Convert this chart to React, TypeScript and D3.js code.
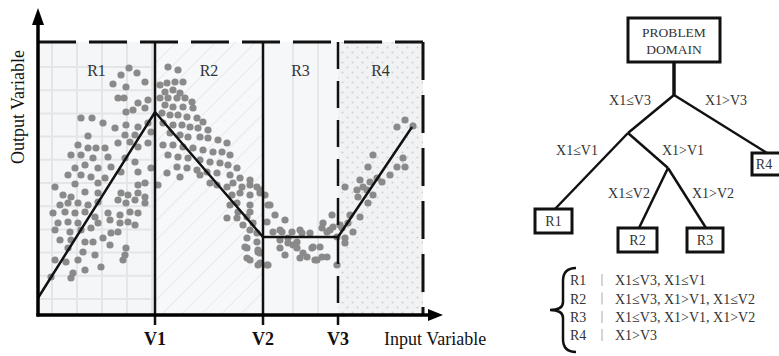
import React from "react";
import * as d3 from "d3";

// ---------- data ----------
const regionLabels = ["R1", "R2", "R3", "R4"];
const breakLabels = ["V1", "V2", "V3"];
const breakValues = [117, 225, 300];
const xMax = 385;
const yMax = 273;
const fitX = [0, 117, 225, 300, 374];
const fitY = [17, 203, 78, 78, 188];

const pointsX = [
  91, 83, 99, 107, 75, 88, 80, 86, 100, 110, 43, 54, 65, 88, 95, 107, 50, 77, 88, 100, 110, 87, 97, 113, 40, 50, 58, 67, 80, 92, 100, 110,
  33, 43, 55, 70, 87, 97, 37, 47, 60, 73, 30, 43, 53, 67, 83, 100, 113, 17, 37, 60, 100, 107, 25, 33, 47, 60, 83, 90, 100, 107,
  22, 30, 40, 50, 60, 80, 88, 97, 107, 15, 27, 37, 47, 57, 70, 82, 92, 100, 20, 30, 40, 60, 72, 82, 90, 97, 17, 32, 43, 53, 73, 80,
  22, 33, 47, 55, 65, 72, 88, 30, 45, 57, 87, 85, 17, 28, 40, 63, 47, 13, 35, 33,
  130, 140, 122, 129, 137, 145, 127, 135, 142, 122, 130, 139, 147, 154, 127, 135, 145, 155, 124, 132, 140, 149, 159, 165, 125, 135, 144, 152, 160, 170,
  180, 132, 142, 150, 162, 170, 189, 125, 135, 145, 155, 165, 175, 184, 192, 130, 140, 150, 162, 172, 182, 190, 199, 139, 149, 159, 169, 179, 192, 202,
  212, 120, 129, 142, 162, 172, 179, 189, 195, 204, 212, 219, 194, 202, 212, 222, 192, 199, 212, 230, 189, 199, 209, 205, 215, 229, 212, 219, 209, 219,
  209, 220, 209, 212, 220, 229,
  222, 227, 232, 237, 247, 235, 244, 254, 264, 242, 250, 259, 255, 247, 265, 262, 275, 282, 277, 284, 289, 299, 230, 222, 222, 200, 212, 242, 262, 272,
  207, 220, 242, 250, 259, 269, 279, 274, 292, 302, 307, 299, 294, 285, 284, 289, 295, 304, 310, 315, 307, 312, 322, 307, 319, 320, 322, 325, 329, 330,
  332, 335, 339, 344, 335, 330, 352, 359, 367, 365, 367, 359, 375,
];
const pointsY = [
  247, 240, 242, 233, 231, 228, 217, 217, 212, 215, 197, 197, 192, 203, 205, 207, 179, 187, 190, 188, 192, 180, 180, 183, 170, 167, 167, 167, 172, 173, 168, 172,
  160, 160, 157, 158, 157, 153, 147, 150, 147, 148, 140, 140, 138, 137, 143, 143, 147, 128, 131, 132, 130, 132, 120, 118, 123, 122, 122, 120, 122, 118,
  110, 112, 112, 110, 113, 115, 112, 115, 112, 102, 103, 102, 103, 98, 102, 100, 103, 102, 92, 93, 92, 92, 95, 92, 93, 90, 85, 83, 85, 87, 82, 83,
  75, 75, 73, 73, 77, 70, 67, 67, 63, 60, 60, 55, 55, 53, 55, 48, 45, 38, 42, 37,
  248, 245, 230, 232, 233, 233, 223, 225, 222, 217, 217, 217, 217, 213, 210, 208, 208, 207, 202, 200, 200, 198, 197, 193, 192, 190, 190, 188, 187, 185,
  175, 182, 180, 178, 178, 177, 172, 170, 170, 168, 167, 165, 163, 163, 160, 160, 158, 157, 155, 153, 152, 150, 147, 148, 147, 145, 143, 142, 140, 137,
  135, 130, 142, 138, 140, 132, 130, 128, 132, 128, 130, 128, 120, 122, 120, 122, 110, 112, 110, 110, 97, 97, 98, 90, 92, 93, 85, 82, 77, 73,
  67, 63, 57, 55, 50, 50,
  125, 120, 110, 100, 95, 83, 83, 83, 82, 75, 77, 73, 70, 60, 62, 57, 68, 68, 55, 58, 58, 50, 50, 52, 62, 103, 103, 85, 85, 82,
  68, 65, 67, 72, 67, 58, 55, 67, 85, 90, 77, 78, 100, 92, 87, 83, 88, 87, 92, 83, 72, 100, 98, 128, 125, 118, 135, 128, 125, 112,
  133, 120, 137, 133, 160, 148, 140, 148, 148, 157, 195, 188, 189,
];

const treeSplits = ["X1≤V3", "X1>V3", "X1≤V1", "X1>V1", "X1≤V2", "X1>V2"];
const rootLines = ["PROBLEM", "DOMAIN"];
const ruleRegions = ["R1", "R2", "R3", "R4"];
const ruleTexts = ["X1≤V3, X1≤V1", "X1≤V3, X1>V1, X1≤V2", "X1≤V3, X1>V1, X1>V2", "X1>V3"];

// ---------- layout ----------
const W = 779;
const H = 356;
const SERIF = "'Liberation Serif', 'Times New Roman', serif";
const plot = { left: 38, right: 423, top: 42, bottom: 315 };

export default function App() {
  const xS = d3.scaleLinear().domain([0, xMax]).range([plot.left, plot.right]);
  const yS = d3.scaleLinear().domain([0, yMax]).range([plot.bottom, plot.top]);
  const edges = [0, ...breakValues, xMax];
  const fitPath = d3
    .line<number>()
    .x((_, i) => xS(fitX[i]))
    .y((d) => yS(d))(fitY) as string;

  const gridXs = d3.range(52, 155, 25);
  const gridYs = d3.range(0, 11).map((i) => 67 + i * 23.2);

  // tree geometry
  const T = {
    root: { x: 628, y: 18, w: 92, h: 44 },
    j0: [674, 95],
    j1: [628, 133],
    j2: [668, 168],
    r1: { x: 535, y: 209, w: 37, h: 24 },
    r2: { x: 618, y: 228, w: 39, h: 24 },
    r3: { x: 687, y: 228, w: 36, h: 24 },
    r4: { x: 752, y: 153, w: 30, h: 22 },
  };
  const boxes = [T.r1, T.r2, T.r3, T.r4];
  const splitPos = [
    [630, 105],
    [726, 105],
    [577, 155],
    [683, 155],
    [629, 198],
    [713, 198],
  ];
  const ruleY = [285, 303.5, 322, 340];

  return (
    <svg
      width={W}
      height={H}
      style={{ position: "absolute", left: 0, top: 0, background: "#fff" }}
      fontFamily={SERIF}
    >
      <defs>
        <pattern id="hatch" width="14" height="14" patternUnits="userSpaceOnUse" patternTransform="rotate(45)">
          <rect width="14" height="14" fill="#f7f8fa" />
          <line x1="0" y1="0" x2="0" y2="14" stroke="#e0e0e0" strokeWidth="1.2" />
        </pattern>
        <pattern id="dots" width="10" height="10" patternUnits="userSpaceOnUse">
          <rect width="10" height="10" fill="#f1f2f4" />
          <circle cx="2.5" cy="2.5" r="1" fill="#cfcfcf" />
          <circle cx="7.5" cy="7.5" r="1" fill="#cfcfcf" />
        </pattern>
      </defs>

      {/* region backgrounds */}
      <rect x={xS(edges[0])} y={plot.top} width={xS(edges[1]) - xS(edges[0])} height={plot.bottom - plot.top} fill="#f5f6f8" />
      {gridXs.map((gx) => (
        <line key={"gx" + gx} x1={gx} x2={gx} y1={plot.top} y2={plot.bottom} stroke="#e4e5e7" strokeWidth={2} />
      ))}
      {gridYs.map((gy) => (
        <line key={"gy" + gy} x1={xS(edges[0])} x2={xS(edges[1])} y1={gy} y2={gy} stroke="#e4e5e7" strokeWidth={2} />
      ))}
      <rect x={xS(edges[1])} y={plot.top} width={xS(edges[2]) - xS(edges[1])} height={plot.bottom - plot.top} fill="url(#hatch)" />
      <rect x={xS(edges[2])} y={plot.top} width={xS(edges[3]) - xS(edges[2])} height={plot.bottom - plot.top} fill="#f6f7f9" />
      {[293, 318].map((vx) => (
        <line key={"r3" + vx} x1={vx} x2={vx} y1={plot.top} y2={plot.bottom} stroke="#e6e7e9" strokeWidth={2} />
      ))}
      <rect x={xS(edges[3])} y={plot.top} width={xS(edges[4]) - xS(edges[3])} height={plot.bottom - plot.top} fill="url(#dots)" />

      {/* region labels */}
      {regionLabels.map((r, i) => (
        <text key={r} x={(xS(edges[i]) + xS(edges[i + 1])) / 2} y={76} textAnchor="middle" fontSize={16} fill="#333">
          {r}
        </text>
      ))}

      {/* scatter */}
      {pointsX.map((px, i) => (
        <circle key={"p" + i} cx={xS(px)} cy={yS(pointsY[i])} r={3.6} fill="#8a8a8a" />
      ))}

      {/* boundaries */}
      <line x1={plot.left} x2={plot.right} y1={plot.top} y2={plot.top} stroke="#111" strokeWidth={3} strokeDasharray="38 13" />
      <line x1={xS(breakValues[0])} x2={xS(breakValues[0])} y1={plot.top} y2={plot.bottom + 10} stroke="#111" strokeWidth={2.5} />
      <line x1={xS(breakValues[1])} x2={xS(breakValues[1])} y1={plot.top} y2={plot.bottom + 10} stroke="#111" strokeWidth={2.5} />
      <line x1={xS(breakValues[2])} x2={xS(breakValues[2])} y1={plot.top} y2={plot.bottom + 10} stroke="#111" strokeWidth={2.5} strokeDasharray="27 12" />
      <line x1={plot.right} x2={plot.right} y1={plot.top} y2={plot.bottom} stroke="#111" strokeWidth={3} strokeDasharray="38 15" />

      {/* fitted piecewise line */}
      <path d={fitPath} fill="none" stroke="#111" strokeWidth={2.5} />

      {/* axes */}
      <line x1={plot.left} x2={plot.left} y1={plot.bottom + 1.5} y2={22} stroke="#000" strokeWidth={3.5} />
      <path d={`M${plot.left},8 L${plot.left - 6},25 L${plot.left + 6},25 Z`} fill="#000" />
      <line x1={plot.left - 1.5} x2={430} y1={plot.bottom} y2={plot.bottom} stroke="#000" strokeWidth={3.5} />
      <path d={`M443,${plot.bottom} L428,${plot.bottom - 6} L428,${plot.bottom + 6} Z`} fill="#000" />

      {breakLabels.map((b, i) => (
        <text key={b} x={xS(breakValues[i])} y={345} textAnchor="middle" fontSize={18} fontWeight="bold" fill="#111">
          {b}
        </text>
      ))}
      <text x={384} y={345} fontSize={18} fill="#111">
        Input Variable
      </text>
      <text transform="translate(24,107) rotate(-90)" textAnchor="middle" fontSize={18} fill="#111">
        Output Variable
      </text>

      {/* tree */}
      <g stroke="#111" strokeWidth={2.5} fill="none">
        <line x1={T.j0[0]} y1={T.root.y + T.root.h} x2={T.j0[0]} y2={T.j0[1]} strokeWidth={3.5} />
        <line x1={T.j0[0]} y1={T.j0[1]} x2={T.j1[0]} y2={T.j1[1]} />
        <line x1={T.j0[0]} y1={T.j0[1]} x2={T.r4.x + 15} y2={T.r4.y} />
        <line x1={T.j1[0]} y1={T.j1[1]} x2={T.r1.x + 20} y2={T.r1.y} />
        <line x1={T.j1[0]} y1={T.j1[1]} x2={T.j2[0]} y2={T.j2[1]} />
        <line x1={T.j2[0]} y1={T.j2[1]} x2={T.r2.x + 21} y2={T.r2.y} />
        <line x1={T.j2[0]} y1={T.j2[1]} x2={T.r3.x + 19} y2={T.r3.y} />
        <rect x={T.root.x} y={T.root.y} width={T.root.w} height={T.root.h} fill="#fff" strokeWidth={3} />
        {boxes.map((b, i) => (
          <rect key={"b" + i} x={b.x} y={b.y} width={b.w} height={b.h} fill="#fff" strokeWidth={3} />
        ))}
      </g>
      {rootLines.map((t, i) => (
        <text key={t} x={T.root.x + T.root.w / 2} y={T.root.y + 19 + i * 17} textAnchor="middle" fontSize={13.5} fill="#333">
          {t}
        </text>
      ))}
      {boxes.map((b, i) => (
        <text key={"bt" + i} x={b.x + (i === 3 ? 12 : b.w / 2)} y={b.y + b.h / 2 + 5} textAnchor="middle" fontSize={14} fill="#333">
          {regionLabels[i]}
        </text>
      ))}
      {treeSplits.map((s, i) => (
        <text key={s} x={splitPos[i][0]} y={splitPos[i][1]} textAnchor="middle" fontSize={14} fill="#333">
          {s}
        </text>
      ))}

      {/* rules legend */}
      <path
        d="M576,268 Q563,268 563,281 L563,302 Q563,310 550,310 Q563,310 563,318 L563,339 Q563,352 576,352"
        fill="none"
        stroke="#111"
        strokeWidth={2.5}
      />
      {ruleRegions.map((r, i) => (
        <g key={"rule" + r}>
          <text x={570} y={ruleY[i]} fontSize={14} fill="#333">
            {r}
          </text>
          <line x1={602} x2={602} y1={ruleY[i] - 11} y2={ruleY[i] + 1} stroke="#aaa" strokeWidth={1} />
          <text x={615} y={ruleY[i]} fontSize={14} fill="#333">
            {ruleTexts[i]}
          </text>
        </g>
      ))}
    </svg>
  );
}
